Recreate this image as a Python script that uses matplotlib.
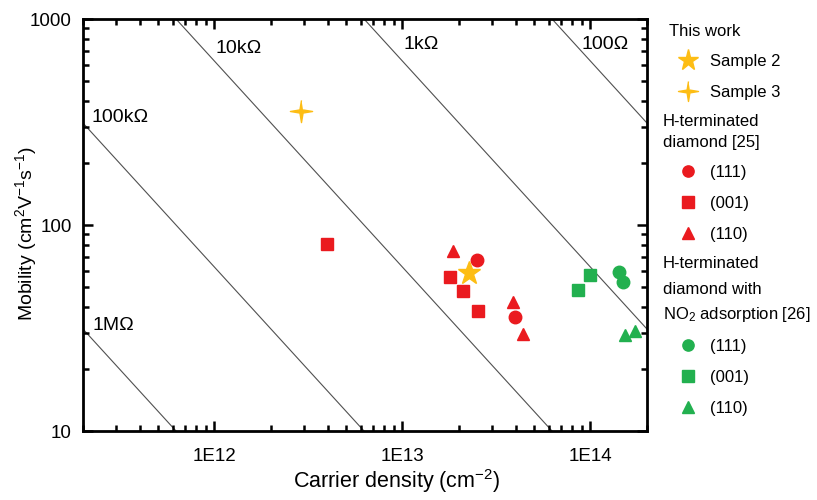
import numpy as np
import matplotlib
matplotlib.use('Agg')
import matplotlib.pyplot as plt

plt.rcParams['font.family'] = ['Liberation Sans', 'DejaVu Sans']
plt.rcParams['mathtext.fontset'] = 'custom'
plt.rcParams['mathtext.rm'] = 'Liberation Sans'
plt.rcParams['mathtext.it'] = 'Liberation Sans:italic'
plt.rcParams['mathtext.bf'] = 'Liberation Sans:bold'

# 数据: 载流子浓度 (cm^-2) 和 迁移率 (cm^2/Vs)
sample2_n = [2.26e13]
sample2_mu = [58.6]
sample3_n = [2.88e12]
sample3_mu = [357]

h111_n = [2.48e13, 3.98e13]
h111_mu = [67.6, 35.7]
h001_n = [3.95e12, 1.79e13, 2.11e13, 2.53e13]
h001_mu = [80.9, 55.7, 48.0, 38.3]
h110_n = [1.86e13, 3.88e13, 4.4e13]
h110_mu = [75.0, 42.3, 29.5]

no2_111_n = [1.42e14, 1.49e14]
no2_111_mu = [59.2, 52.8]
no2_001_n = [8.63e13, 9.9e13]
no2_001_mu = [48.5, 57.2]
no2_110_n = [1.53e14, 1.73e14]
no2_110_mu = [29.2, 30.7]

# 方块电阻等值线
sheet_res = [1e6, 1e5, 1e4, 1e3, 1e2]
res_labels = ['1M\u03a9', '100k\u03a9', '10k\u03a9', '1k\u03a9', '100\u03a9']
label_n = [2.89e11, 3.16e11, 1.34e12, 1.26e13, 1.2e14]
label_mu = [32.4, 334, 723, 748, 748]

q = 1.6e-19
red = '#ea1a1f'
green = '#22b04f'
gold = '#fdbd14'

W, H = 817, 500

# 四角星 (Sample 3)
ang = np.pi / 2 + np.arange(8) * np.pi / 4
rad = np.where(np.arange(8) % 2 == 0, 1.0, 0.2)
sparkle = list(zip(rad * np.cos(ang), rad * np.sin(ang)))

fig = plt.figure(figsize=(8.17, 5), dpi=100)
ax = fig.add_axes([83 / W, 1 - 431 / H, 564 / W, 412 / H])

n_line = np.logspace(11, 15, 200)
for R in sheet_res:
    ax.plot(n_line, 1 / (q * n_line * R), color='#505050', lw=0.8, zorder=1)
for t, x, y in zip(res_labels, label_n, label_mu):
    ax.text(x, y, t, fontsize=14, ha='center', va='center')

ms = 9
h1, = ax.plot(sample2_n, sample2_mu, '*', color=gold, ms=17, ls='none', zorder=4)
h2, = ax.plot(sample3_n, sample3_mu, marker=sparkle, color=gold, ms=16, ls='none', zorder=4)
r1, = ax.plot(h111_n, h111_mu, 'o', color=red, ms=ms, ls='none', zorder=3)
r2, = ax.plot(h001_n, h001_mu, 's', color=red, ms=ms, ls='none', zorder=3)
r3, = ax.plot(h110_n, h110_mu, '^', color=red, ms=ms, ls='none', zorder=3)
g1, = ax.plot(no2_111_n, no2_111_mu, 'o', color=green, ms=ms, ls='none', zorder=3)
g2, = ax.plot(no2_001_n, no2_001_mu, 's', color=green, ms=ms, ls='none', zorder=3)
g3, = ax.plot(no2_110_n, no2_110_mu, '^', color=green, ms=ms, ls='none', zorder=3)

ax.set_xscale('log')
ax.set_yscale('log')
ax.set_xlim(2e11, 2e14)
ax.set_ylim(10, 1000)

ax.set_xticks([1e12, 1e13, 1e14])
ax.set_xticklabels(['1E12', '1E13', '1E14'])
ax.set_yticks([10, 100, 1000])
ax.set_yticklabels(['10', '100', '1000'])
ax.tick_params(which='both', direction='in', top=True, right=True, labelsize=13.5, width=1.8)
ax.tick_params(which='major', length=7)
ax.tick_params(which='minor', length=4)
ax.tick_params(axis='x', which='major', pad=12)
ax.tick_params(axis='y', which='major', pad=8)
for s in ax.spines.values():
    s.set_linewidth(2)

ax.set_xlabel('Carrier density (cm$^{-2}$)', fontsize=15.5)
ax.set_ylabel('Mobility (cm$^2$V$^{-1}$s$^{-1}$)', fontsize=14)
ax.xaxis.set_label_coords((397 - 83) / 564, -0.087)
ax.yaxis.set_label_coords(-0.078, 0.478)

# 图例标题
headers = [('This work', 669, 36),
           ('H-terminated', 663, 126), ('diamond [25]', 663, 147),
           ('H-terminated', 663, 268), ('diamond with', 663, 294),
           ('NO$_{\\mathregular{2}}$ adsorption [26]', 663, 319)]
for t, x, y in headers:
    fig.text(x / W, 1 - y / H, t, fontsize=12, ha='left', va='baseline')

# 图例条目
leg_kw = dict(frameon=False, fontsize=12, handletextpad=0.6, labelspacing=0.95,
              borderpad=0, borderaxespad=0, handlelength=1.5, markerscale=0.9,
              loc='center left')
leg1 = fig.legend([h1, h2], ['Sample 2', 'Sample 3'],
                  bbox_to_anchor=(675 / W, 1 - 77 / H), **leg_kw)
leg2 = fig.legend([r1, r2, r3], ['(111)', '(001)', '(110)'],
                  bbox_to_anchor=(675 / W, 1 - 203.5 / H), **leg_kw)
leg3 = fig.legend([g1, g2, g3], ['(111)', '(001)', '(110)'],
                  bbox_to_anchor=(675 / W, 1 - 377.5 / H), **leg_kw)

fig.savefig('out.png', dpi=100)
